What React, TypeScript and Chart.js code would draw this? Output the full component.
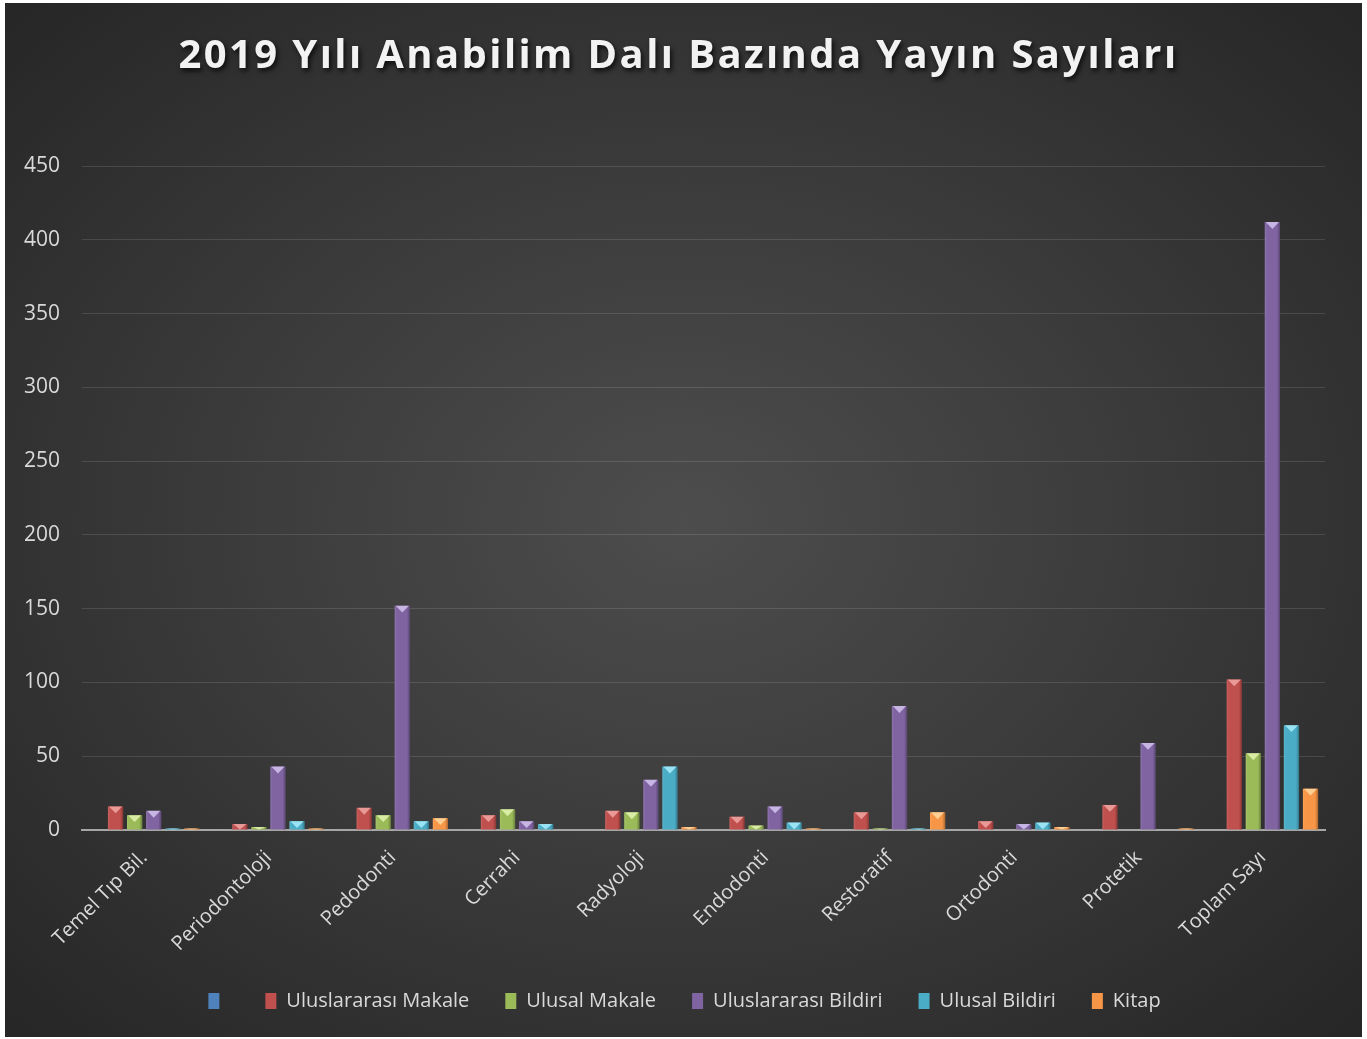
import React, { useEffect, useRef } from "react";
import { Chart, registerables } from "chart.js";

Chart.register(...registerables);

const titleText = "2019 Yılı Anabilim Dalı Bazında Yayın Sayıları";
const categories = [
  "Temel Tıp Bil.",
  "Periodontoloji",
  "Pedodonti",
  "Cerrahi",
  "Radyoloji",
  "Endodonti",
  "Restoratif",
  "Ortodonti",
  "Protetik",
  "Toplam Sayı",
];
const seriesNames = ["", "Uluslararası Makale", "Ulusal Makale", "Uluslararası Bildiri", "Ulusal Bildiri", "Kitap"];
const blankSeries = [0, 0, 0, 0, 0, 0, 0, 0, 0, 0];
const uluslararasiMakale = [16, 4, 15, 10, 13, 9, 12, 6, 17, 102];
const ulusalMakale = [10, 2, 10, 14, 12, 3, 1, 0, 0, 52];
const uluslararasiBildiri = [13, 43, 152, 6, 34, 16, 84, 4, 59, 412];
const ulusalBildiri = [1, 6, 6, 4, 43, 5, 1, 5, 0, 71];
const kitap = [1, 1, 8, 0, 2, 1, 12, 2, 1, 28];
const yTicks = [0, 50, 100, 150, 200, 250, 300, 350, 400, 450];

const seriesValues = [blankSeries, uluslararasiMakale, ulusalMakale, uluslararasiBildiri, ulusalBildiri, kitap];
const colors = ["#4f81bd", "#c0504d", "#9bbb59", "#8064a2", "#4bacc6", "#f79646"];
const lightColors = ["#a7c0e4", "#f0a7a5", "#e4f5b0", "#d4c3f0", "#a8ecfb", "#ffd9a0"];

const FONT = "'Open Sans', 'DejaVu Sans', sans-serif";

function patchDraw(chart: any, box: any, setup: (ctx: CanvasRenderingContext2D) => void) {
  if (!box || box.__patched) return;
  const orig = box.draw.bind(box);
  box.draw = function (area: any) {
    const ctx = chart.ctx;
    ctx.save();
    setup(ctx);
    orig(area);
    ctx.restore();
  };
  box.__patched = true;
}

const barStylePlugin = {
  id: "barStyle",
  beforeDraw(chart: any) {
    patchDraw(chart, chart.titleBlock, (ctx: any) => {
      ctx.translate(5, 0);
      ctx.shadowColor = "rgba(0,0,0,0.75)";
      ctx.shadowBlur = 5;
      ctx.shadowOffsetX = 2;
      ctx.shadowOffsetY = 3;
      ctx.letterSpacing = "2.4px";
    });
    patchDraw(chart, chart.legend, (ctx: any) => {
      ctx.translate(11, 0);
    });
  },
  afterDatasetsDraw(chart: any) {
    const ctx = chart.ctx;
    chart.data.datasets.forEach((ds: any, di: number) => {
      const meta = chart.getDatasetMeta(di);
      meta.data.forEach((bar: any) => {
        const { x, y, base, width } = bar.getProps(["x", "y", "base", "width"], true);
        const h = base - y;
        if (h <= 0.5) return;
        const left = x - width / 2;
        ctx.save();
        const g = ctx.createLinearGradient(left, 0, left + width, 0);
        g.addColorStop(0, "rgba(255,255,255,0.10)");
        g.addColorStop(0.15, "rgba(255,255,255,0.0)");
        g.addColorStop(0.8, "rgba(0,0,0,0.0)");
        g.addColorStop(1, "rgba(0,0,0,0.30)");
        ctx.fillStyle = g;
        ctx.fillRect(left, y, width, h);
        const th = Math.min(width * 0.45, h);
        ctx.beginPath();
        ctx.moveTo(left + 1, y);
        ctx.lineTo(left + width - 1, y);
        ctx.lineTo(x, y + th);
        ctx.closePath();
        ctx.fillStyle = lightColors[di];
        ctx.globalAlpha = 0.85;
        ctx.fill();
        ctx.restore();
      });
    });
  },
};

export default function App() {
  const canvasRef = useRef<HTMLCanvasElement | null>(null);

  useEffect(() => {
    document.body.style.margin = "0";
    const canvas = canvasRef.current;
    if (!canvas) return;
    const chart = new Chart(canvas, {
      type: "bar",
      data: {
        labels: categories,
        datasets: seriesValues.map((vals, i) => ({
          label: seriesNames[i],
          data: vals,
          backgroundColor: colors[i],
          borderWidth: 0,
          barPercentage: 0.8,
          categoryPercentage: 0.92,
        })),
      },
      options: {
        animation: false,
        responsive: false,
        maintainAspectRatio: false,
        layout: { padding: { left: 17, right: 37, top: 20, bottom: 16 } },
        plugins: {
          title: {
            display: true,
            text: titleText,
            color: "#f2f2f2",
            font: { family: FONT, size: 40, weight: "bold" },
            padding: { top: 10, bottom: 85 },
          },
          legend: {
            position: "bottom",
            labels: {
              color: "#d9d9d9",
              font: { family: FONT, size: 20 },
              boxWidth: 11,
              boxHeight: 16,
              padding: 36,
              generateLabels: (ch: any) =>
                ch.data.datasets.map((ds: any, i: number) => ({
                  text: ds.label,
                  fillStyle: colors[i],
                  strokeStyle: colors[i],
                  lineWidth: 0,
                  fontColor: "#d9d9d9",
                  hidden: false,
                  datasetIndex: i,
                })),
            },
          },
          tooltip: { enabled: false },
        },
        scales: {
          x: {
            grid: { display: false, drawTicks: false },
            border: { display: true, color: "#a6a6a6", width: 2 },
            ticks: {
              color: "#d9d9d9",
              font: { family: FONT, size: 20 },
              minRotation: 45,
              maxRotation: 45,
              padding: 16,
            },
            afterFit: (scale: any) => {
              scale.paddingLeft = 0;
              scale.paddingRight = 0;
              scale.height = 125;
            },
          },
          y: {
            min: 0,
            max: 450,
            afterBuildTicks: (axis: any) => {
              axis.ticks = yTicks.map((v) => ({ value: v }));
            },
            afterFit: (scale: any) => {
              scale.width = 60;
            },
            grid: { color: "rgba(255,255,255,0.12)", lineWidth: 1, drawTicks: false },
            border: { display: false },
            ticks: {
              color: "#d9d9d9",
              font: { family: FONT, size: 21 },
              padding: 22,
            },
          },
        },
      },
      plugins: [barStylePlugin],
    });
    return () => chart.destroy();
  }, []);

  return (
    <div style={{ position: "absolute", left: 0, top: 0, width: 1367, height: 1039, background: "#ffffff" }}>
      <div
        style={{
          position: "absolute",
          left: 5,
          top: 3,
          width: 1357,
          height: 1034,
          background: "radial-gradient(ellipse at 50% 50%, #4d4d4d 0%, #3c3c3c 45%, #262626 100%)",
        }}
      >
        <canvas ref={canvasRef} width={1357} height={1034} style={{ display: "block" }} />
      </div>
    </div>
  );
}
